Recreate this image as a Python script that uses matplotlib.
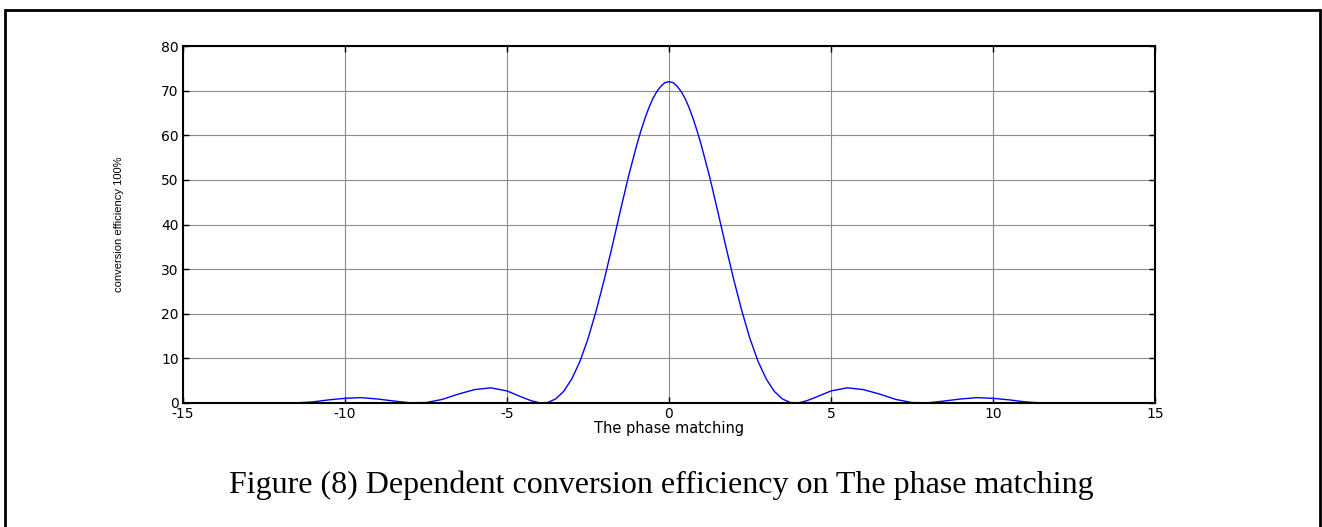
import matplotlib
matplotlib.use('Agg')
import matplotlib.pyplot as plt
from matplotlib.patches import Rectangle

matplotlib.rcParams['axes.unicode_minus'] = False

# phase mismatch values and efficiency (%)
phase = [-12.0, -11.5, -11.0, -10.5, -10.0, -9.5, -9.0, -8.5, -8.0, -7.5,
         -7.0, -6.5, -6.0, -5.5, -5.0, -4.5, -4.25, -4.0, -3.75, -3.5,
         -3.25, -3.0, -2.75, -2.5, -2.25, -2.0, -1.75, -1.5, -1.25, -1.0,
         -0.875, -0.75, -0.625, -0.5, -0.375, -0.25, -0.125, 0.0,
         0.125, 0.25, 0.375, 0.5, 0.625, 0.75, 0.875, 1.0, 1.25, 1.5,
         1.75, 2.0, 2.25, 2.5, 2.75, 3.0, 3.25, 3.5, 3.75, 4.0,
         4.25, 4.5, 5.0, 5.5, 6.0, 6.5, 7.0, 7.5, 8.0, 8.5,
         9.0, 9.5, 10.0, 10.5, 11.0, 11.5, 12.0]
efficiency = [0.05, 0.02, 0.25, 0.7, 1.05, 1.2, 0.9, 0.45, 0.05, 0.1,
              0.8, 2.0, 3.0, 3.4, 2.7, 1.2, 0.5, 0.05, 0.1, 0.9,
              2.6, 5.4, 9.3, 14.4, 20.6, 27.6, 35.2, 43.1, 50.8, 57.7,
              60.8, 63.6, 66.1, 68.2, 69.8, 71.0, 71.8, 72.0,
              71.8, 71.0, 69.8, 68.2, 66.1, 63.6, 60.8, 57.7, 50.8, 43.1,
              35.2, 27.6, 20.6, 14.4, 9.3, 5.4, 2.6, 0.9, 0.1, 0.05,
              0.5, 1.2, 2.7, 3.4, 3.0, 2.0, 0.8, 0.1, 0.05, 0.45,
              0.9, 1.2, 1.05, 0.7, 0.25, 0.02, 0.05]

xticks = [-15, -10, -5, 0, 5, 10, 15]
yticks = [0, 10, 20, 30, 40, 50, 60, 70, 80]

fig = plt.figure(figsize=(13.22, 5.27), dpi=100, facecolor='white')

# outer frame of the page figure
frame = Rectangle((5 / 1322, -0.1), 1315 / 1322, 1.1 - 10 / 527,
                  transform=fig.transFigure, fill=False,
                  edgecolor='black', linewidth=2, clip_on=False)
fig.patches.append(frame)

ax = fig.add_axes([0.1384, 0.2353, 0.7353, 0.6774])
ax.plot(phase, efficiency, color='#0000ff', linewidth=1)

ax.set_xlim(-15, 15)
ax.set_ylim(0, 80)
ax.set_xticks(xticks)
ax.set_yticks(yticks)
ax.grid(True, color='#8c8c8c', linewidth=0.8)
ax.set_axisbelow(True)
ax.tick_params(direction='in', length=4, width=1, top=True, right=True,
               labelsize=10, pad=3)
for lab in ax.get_xticklabels() + ax.get_yticklabels():
    lab.set_family('DejaVu Sans')
for sp in ax.spines.values():
    sp.set_linewidth(1.5)

ax.set_xlabel('The phase matching', fontsize=10.5, family='DejaVu Sans', labelpad=0)
ax.set_ylabel('conversion efficiency 100%', fontsize=8,
              family='Liberation Sans', labelpad=27)

fig.text(0.5, 1 - 485 / 527, 'Figure (8) Dependent conversion efficiency on The phase matching',
         ha='center', va='center', fontsize=23, family='Liberation Serif')

fig.savefig('out.png', dpi=100)
